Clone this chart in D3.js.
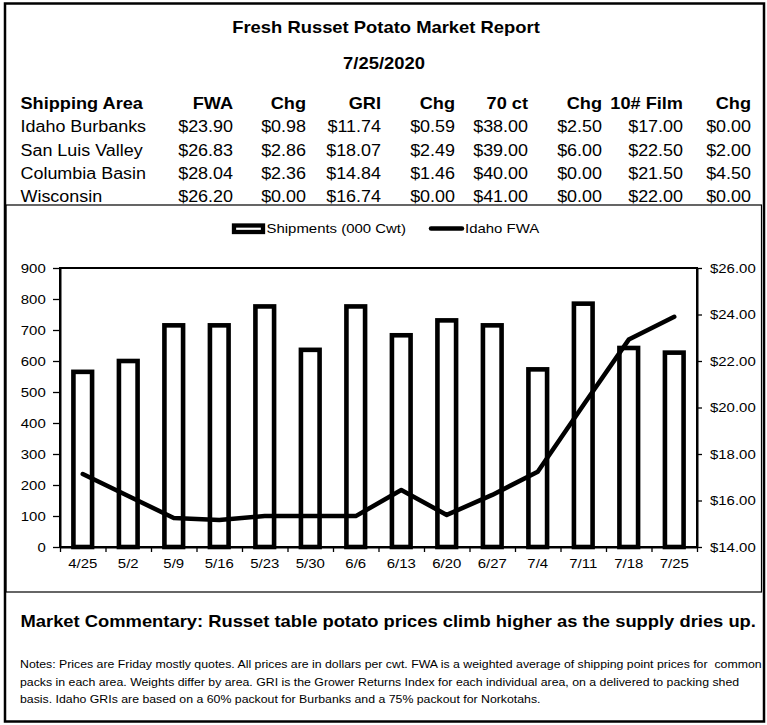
<!DOCTYPE html>
<html><head><meta charset="utf-8">
<script src="https://cdn.jsdelivr.net/npm/d3@7"></script>
<style>
html,body{margin:0;padding:0;background:#fff;}
svg{display:block;font-family:"Liberation Sans",Arial,sans-serif;}
</style></head>
<body>
<script>
// ---------- DATA ----------
const weeks = ["4/25","5/2","5/9","5/16","5/23","5/30","6/6","6/13","6/20","6/27","7/4","7/11","7/18","7/25"];
const shipments = [565, 600, 715, 715, 776, 636, 776, 683, 731, 715, 573, 785, 642, 627];
const idahoFWA = [17.14, 16.19, 15.25, 15.16, 15.33, 15.33, 15.33, 16.45, 15.38, 16.24, 17.24, 20.10, 22.92, 23.90];
const leftTicks = [0,100,200,300,400,500,600,700,800,900];
const rightTicks = [14,16,18,20,22,24,26];

const tableHeaders = ["Shipping Area","FWA","Chg","GRI","Chg","70 ct","Chg","10# Film","Chg"];
const areas = ["Idaho Burbanks","San Luis Valley","Columbia Basin","Wisconsin"];
const fwa = ["$23.90","$26.83","$28.04","$26.20"];
const fwaChg = ["$0.98","$2.86","$2.36","$0.00"];
const gri = ["$11.74","$18.07","$14.84","$16.74"];
const griChg = ["$0.59","$2.49","$1.46","$0.00"];
const ct70 = ["$38.00","$39.00","$40.00","$41.00"];
const ct70Chg = ["$2.50","$6.00","$0.00","$0.00"];
const film10 = ["$17.00","$22.50","$21.50","$22.00"];
const film10Chg = ["$0.00","$2.00","$4.50","$0.00"];

const titleText = "Fresh Russet Potato Market Report";
const dateText = "7/25/2020";
const commentary = "Market Commentary: Russet table potato prices climb higher as the supply dries up.";
const notes = [
  "Notes: Prices are Friday mostly quotes. All prices are in dollars per cwt. FWA is a weighted average of shipping point prices for  common",
  "packs in each area. Weights differ by area. GRI is the Grower Returns Index for each individual area, on a delivered to packing shed",
  "basis. Idaho GRIs are based on a 60% packout for Burbanks and a 75% packout for Norkotahs."
];

// ---------- LAYOUT ----------
const W = 767, H = 725, SX = 1.15;
const svg = d3.select("body").append("svg").attr("width", W).attr("height", H);

function txt(g, x, y, s, size, opt = {}) {
  return g.append("text")
    .attr("transform", `translate(${x},${y}) scale(${opt.sx || SX},1)`)
    .attr("text-anchor", opt.anchor || "start")
    .attr("font-size", size)
    .attr("font-weight", opt.bold ? "bold" : "normal")
    .attr("fill", "#000")
    .style("white-space", "pre")
    .text(s);
}

// frames
svg.append("rect").attr("x", 5).attr("y", 3.5).attr("width", 759).attr("height", 718)
  .attr("fill", "none").attr("stroke", "#000").attr("stroke-width", 2.5);
svg.append("rect").attr("x", 6).attr("y", 205).attr("width", 755.5).attr("height", 387)
  .attr("fill", "none").attr("stroke", "#000").attr("stroke-width", 1.2);

// title
txt(svg, 386, 32.8, titleText, 16, {anchor: "middle", bold: true});
txt(svg, 384, 69, dateText, 16, {anchor: "middle", bold: true});

// table
const colRight = [null, 233, 306, 381, 455, 528, 602, 683, 751];
const headerY = 109, rowY0 = 132.3, rowStep = 23.2;
tableHeaders.forEach((h, i) => {
  if (i === 0) txt(svg, 20.5, headerY, h, 15.8, {bold: true});
  else txt(svg, colRight[i], headerY, h, 15.8, {bold: true, anchor: "end"});
});
const cols = [fwa, fwaChg, gri, griChg, ct70, ct70Chg, film10, film10Chg];
areas.forEach((a, r) => {
  const y = rowY0 + r * rowStep;
  txt(svg, 20.5, y, a, 15.6);
  cols.forEach((c, ci) => txt(svg, colRight[ci + 1], y, c[r], 15.6, {anchor: "end"}));
});

// ---------- CHART ----------
const pl = 60, pr = 697, pt = 268, pb = 547;
const xBand = d3.scaleBand().domain(weeks).range([pl, pr]).paddingInner(0.59).paddingOuter(0.295);
const xIdx = d3.scaleLinear().domain([0, weeks.length]).range([pl, pr]);
const yL = d3.scaleLinear().domain([0, 900]).range([pb, pt]);
const yR = d3.scaleLinear().domain([14, 26]).range([pb, pt]);

const chart = svg.append("g");

// bars
chart.selectAll("rect.bar").data(shipments).enter().append("rect")
  .attr("class", "bar")
  .attr("x", (d, i) => xBand(weeks[i]))
  .attr("width", xBand.bandwidth())
  .attr("y", d => yL(d))
  .attr("height", d => pb - yL(d))
  .attr("fill", "#fff").attr("stroke", "#000").attr("stroke-width", 4.6);

// plot frame
chart.append("rect").attr("x", pl).attr("y", pt).attr("width", pr - pl).attr("height", pb - pt)
  .attr("fill", "none").attr("stroke", "#000").attr("stroke-width", 2);

// line
const line = d3.line().x((d, i) => xBand(weeks[i]) + xBand.bandwidth() / 2).y(d => yR(d));
chart.append("path").datum(idahoFWA).attr("d", line)
  .attr("fill", "none").attr("stroke", "#000").attr("stroke-width", 4.5)
  .attr("stroke-linejoin", "round").attr("stroke-linecap", "round");

// axes
const fmtD = d => "$" + d3.format(".2f")(d);
const axL = chart.append("g").attr("transform", `translate(${pl},0)`)
  .call(d3.axisLeft(yL).tickValues(leftTicks).tickSize(7).tickSizeOuter(0));
axL.selectAll("text").attr("x", null).attr("dy", "0.34em")
  .attr("transform", `translate(-14.3,0) scale(${SX},1)`);
const axR = chart.append("g").attr("transform", `translate(${pr},0)`)
  .call(d3.axisRight(yR).tickValues(rightTicks).tickFormat(fmtD).tickSize(5).tickSizeOuter(0));
axR.selectAll("text").attr("x", null).attr("dy", "0.34em")
  .attr("transform", `translate(13,0) scale(${SX},1)`);
const axB = chart.append("g").attr("transform", `translate(0,${pb})`)
  .call(d3.axisBottom(xIdx).tickValues(d3.range(weeks.length + 1)).tickFormat("").tickSize(5).tickSizeOuter(0));
const axBL = chart.append("g").attr("transform", `translate(0,${pb})`)
  .call(d3.axisBottom(xBand).tickSize(0));
axBL.select(".domain").remove();
axBL.selectAll("text").attr("y", null).attr("dy", 0)
  .attr("transform", `translate(0,20.7) scale(${SX},1)`);
[axL, axR, axB, axBL].forEach(a => {
  a.selectAll("text").attr("font-size", 13).attr("font-family", "Liberation Sans, Arial, sans-serif").attr("fill", "#000");
  a.selectAll("line").attr("stroke", "#000").attr("stroke-width", 1.3);
  a.selectAll(".domain").attr("stroke", "#000").attr("stroke-width", 2);
});

// legend
const lg = svg.append("g");
lg.append("rect").attr("x", 234).attr("y", 225.5).attr("width", 29).attr("height", 6.5)
  .attr("fill", "#fff").attr("stroke", "#000").attr("stroke-width", 4.3);
txt(lg, 266.5, 233.3, "Shipments (000 Cwt)", 13);
lg.append("line").attr("x1", 431).attr("x2", 462).attr("y1", 228.5).attr("y2", 228.5)
  .attr("stroke", "#000").attr("stroke-width", 4.5).attr("stroke-linecap", "round");
txt(lg, 465, 233.3, "Idaho FWA", 13);

// commentary
const c = txt(svg, 20.5, 627, commentary, 15.7, {bold: true, sx: 1});
const cw = c.node().getComputedTextLength();
c.attr("transform", `translate(20.5,627) scale(${735 / cw},1)`);

// notes
const noteY = [668, 685.5, 703];
const nt = notes.map((s, i) => txt(svg, 20, noteY[i], s, 11.5, {sx: 1}));
const nsx = 742 / nt[0].node().getComputedTextLength();
nt.forEach((t, i) => t.attr("transform", `translate(20,${noteY[i]}) scale(${nsx},1)`));
</script>
</body></html>
